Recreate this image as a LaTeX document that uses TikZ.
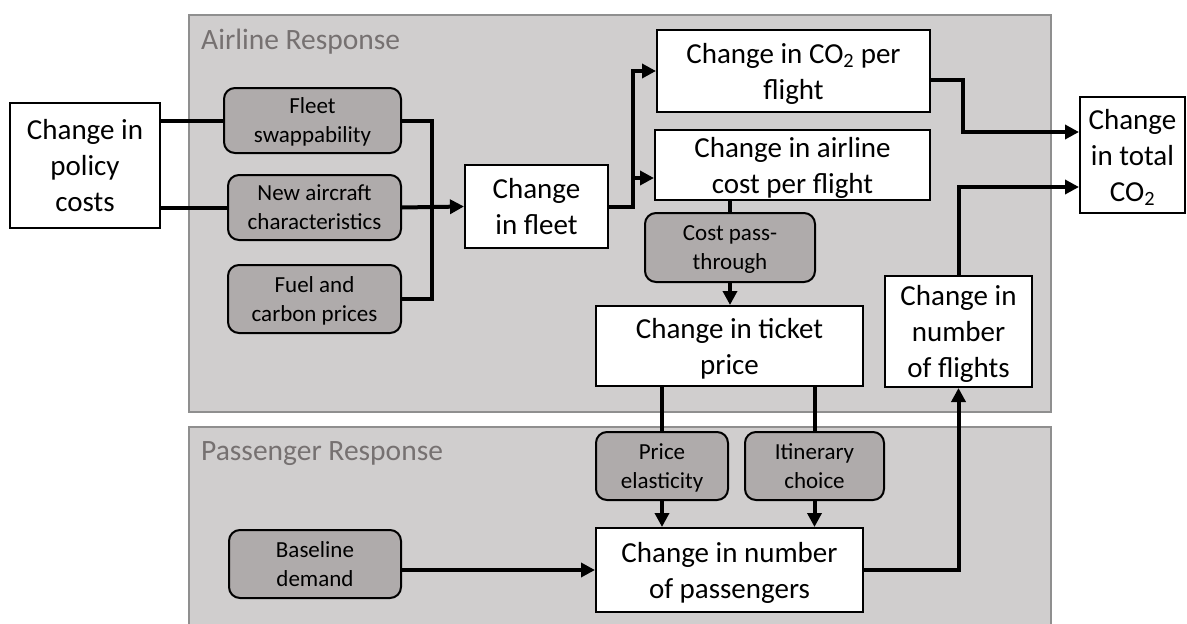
\documentclass[tikz,border=0pt]{standalone}
\usepackage{fontspec}
\setmainfont{Carlito}
\usepackage{xcolor}
\usetikzlibrary{arrows.meta,positioning,calc}
\definecolor{panelfill}{HTML}{D0CECE}
\definecolor{panelline}{HTML}{8F8F8F}
\definecolor{factorfill}{HTML}{AFABAB}
\definecolor{titlegray}{HTML}{767171}
\newcommand{\bigtxt}{\fontsize{29}{36}\selectfont}
\newcommand{\smalltxt}{\fontsize{23}{29}\selectfont}
\newcommand{\COtwo}{CO\textsubscript{2}}

\begin{document}
\begin{tikzpicture}[x=1pt, y=-1pt,
  outcome/.style={draw, line width=2pt, fill=white, align=center, inner sep=0pt, text depth=0pt, font=\bigtxt},
  factor/.style={draw, line width=2pt, rounded corners=11pt, fill=factorfill, align=center, inner sep=0pt, text depth=0pt, font=\smalltxt},
  panel/.style={draw=panelline, line width=1.5pt, fill=panelfill, inner sep=0pt},
  paneltitle/.style={anchor=base west, text=titlegray, font=\fontsize{29.5}{35}\selectfont, inner sep=0pt},
  link/.style={line width=4pt},
  flow/.style={link, -{Triangle[length=14pt,width=14pt]}},
]
\useasboundingbox (0,0) rectangle (1187,624);

% ---------------- panels ----------------
\node[panel, minimum width=862pt, minimum height=397pt] (airline) at (620,213.5) {};
\node[paneltitle] (airtitle) at (201,49) {Airline\ Response};
\node[panel, minimum width=862pt, minimum height=213pt] (passenger) at (620,533.5) {};
\node[paneltitle] (paxtitle) at (201,460) {Passenger Response};

% ---------------- airline side ----------------
\node[outcome, minimum width=150pt, minimum height=125pt] (policy) at (85,165.5) {Change in\\policy\\costs};
\node[factor, minimum width=177pt, minimum height=65pt] (swap) at (312.5,120.5) {Fleet\\swappability};
\node[factor, minimum width=173pt, minimum height=65pt] (aircraft) at (314.5,207.5) {New aircraft\\characteristics};
\node[factor, minimum width=173pt, minimum height=68pt] (fuel) at (314.5,299) {Fuel and\\carbon prices};
\node[outcome, minimum width=143pt, minimum height=83pt] (fleet) at (536.5,206.5) {Change\\in fleet};
\node[outcome, minimum width=273pt, minimum height=82pt] (co2) at (793.5,71) {Change in \COtwo{} per\\flight};
\node[outcome, minimum width=275pt, minimum height=70pt] (cost) at (792.5,165) {Change in airline\\cost per flight};
\node[factor, minimum width=170pt, minimum height=69pt] (pass) at (730,247.5) {Cost pass-\\through};
\node[outcome, minimum width=267pt, minimum height=80pt] (ticket) at (729.5,346) {Change in ticket\\price};
\node[outcome, minimum width=147pt, minimum height=111pt] (flights) at (958.5,331.5) {Change in\\number\\of flights};
\node[outcome, minimum width=105pt, minimum height=116pt] (total) at (1132.5,155) {Change\\in total\\\COtwo};

% ---------------- passenger side ----------------
\node[factor, minimum width=132pt, minimum height=68pt] (elast) at (662,466) {Price\\elasticity};
\node[factor, minimum width=139pt, minimum height=68pt] (itin) at (814.5,466) {Itinerary\\choice};
\node[outcome, minimum width=267pt, minimum height=84pt] (pax) at (729.5,570) {Change in number\\of passengers};
\node[factor, minimum width=172pt, minimum height=68pt] (base) at (315,564) {Baseline\\demand};

% ---------------- connectors ----------------
\coordinate (jfleet) at (432,207.5);
\coordinate (jtotal) at (963,0);
\coordinate (tin1) at ([yshift=23pt]total.west);
\coordinate (tin2) at ([yshift=-32pt]total.west);
\draw[link] (policy.east |- swap.west) -- (swap.west);
\draw[link] (policy.east |- aircraft.west) -- (aircraft.west);
\draw[link] (swap.east) -| (jfleet |- fuel.east) -- (fuel.east);
\draw[flow] (aircraft.east) -- (fleet.west);
\draw[flow] (fleet.east) -- ++(24,0) |- (co2.west);
\draw[flow] (fleet.east) -- ++(24,0) |- ([yshift=-13pt]cost.west);
\draw[flow] ([yshift=-9pt]co2.east) -| (jtotal |- tin1) -- (tin1);
\draw[flow] (flights.north) |- (tin2);
\draw[link] (cost.south -| pass.north) -- (pass.north);
\draw[flow] (pass.south) -- (pass.south |- ticket.north);
\draw[link] (elast.north |- ticket.south) -- (elast.north);
\draw[link] (itin.north |- ticket.south) -- (itin.north);
\draw[flow] (elast.south) -- (elast.south |- pax.north);
\draw[flow] (itin.south) -- (itin.south |- pax.north);
\draw[flow] (base.east |- pax.west) -- (pax.west);
\draw[flow] (pax.east) -| (flights.south);
\end{tikzpicture}
\end{document}
